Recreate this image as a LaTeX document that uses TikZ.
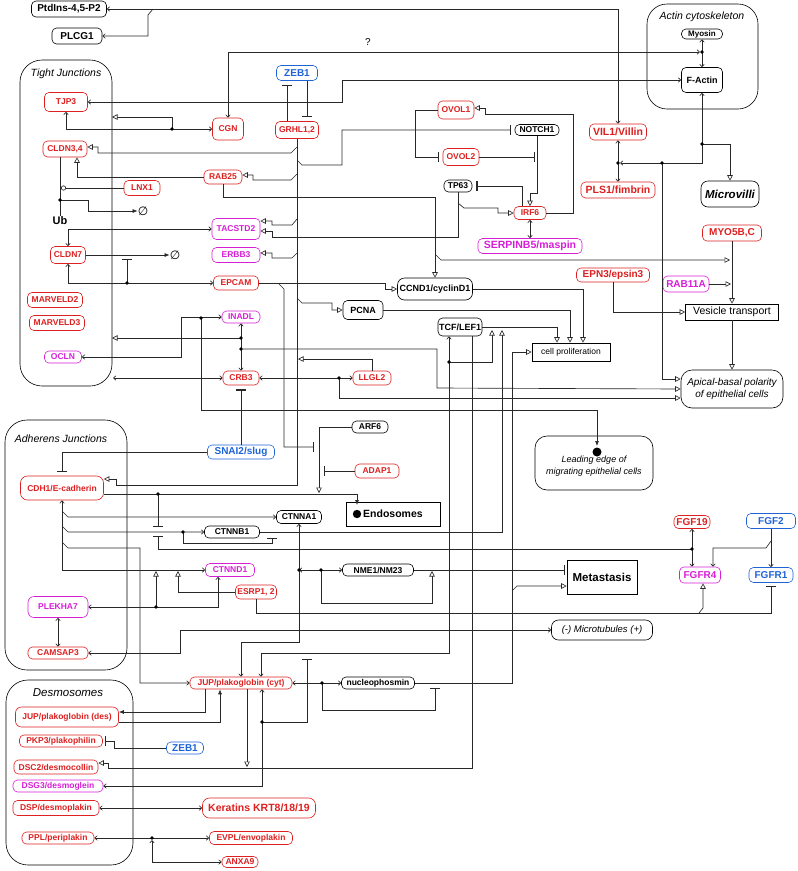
\documentclass[tikz,border=0pt]{standalone}
\usepackage{fontspec}
\setmainfont{Liberation Sans}
\newfontfamily\djv{DejaVu Sans}
\usetikzlibrary{arrows.meta,calc}
\definecolor{nred}{RGB}{222,32,32}
\definecolor{nmag}{RGB}{215,30,215}
\definecolor{nblue}{RGB}{30,100,215}
\definecolor{lc}{RGB}{40,40,40}
\begin{document}
\begin{tikzpicture}[x=1pt,y=-1pt,
  >={Straight Barb[length=2.5pt,width=4.5pt]},
  nb/.style={draw, rounded corners=4.5pt, inner sep=1pt, fill=white, line width=0.6pt, font=\bfseries\fontsize{8.5}{10}\selectfont},
  rn/.style={nb, draw=nred, text=nred},
  mn/.style={nb, draw=nmag, text=nmag},
  bn/.style={nb, draw=nblue, text=nblue},
  kn/.style={nb, draw=black, text=black},
  lg/.style={font=\bfseries\fontsize{10}{11}\selectfont},
  sz/.style 2 args={minimum width=#1pt, minimum height=#2pt},
  sq/.style={draw, fill=white, line width=0.6pt, inner sep=1pt},
  ttl/.style={font=\itshape\fontsize{10.5}{12}\selectfont},
  ln/.style={draw=lc, line width=0.65pt},
  ot/.style={-{Triangle[open,length=5.5pt,width=5.5pt,fill=white]}},
  ih/.style={-{Bar[width=10pt,line width=1.2pt]}},
  fa/.style={-{Latex[length=5pt,width=4pt]}},
  ci/.style={-{Circle[open,length=5pt]}}
]
\useasboundingbox (0,0) rectangle (798,871);

% compartments
\draw[line width=0.6pt, rounded corners=22pt] (20,60) rectangle (112,386);
\node[ttl] (tjt) at (66,74) {Tight Junctions};
\draw[line width=0.6pt, rounded corners=22pt] (5,420) rectangle (127,670);
\node[ttl] (ajt) at (61,439) {Adherens Junctions};
\draw[line width=0.6pt, rounded corners=22pt] (6,680) rectangle (133,865);
\node[ttl, font=\itshape\fontsize{11.5}{12}\selectfont] (dst) at (68,693) {Desmosomes};
\draw[line width=0.6pt, rounded corners=20pt] (647,4) rectangle (758,109);
\node[ttl] (act) at (702,17) {Actin cytoskeleton};

% nodes
\node[kn,sz={75}{16},font=\bfseries\fontsize{10}{11}\selectfont] (ptd) at (69,9) {PtdIns-4,5-P2};
\node[kn,sz={50}{16},font=\bfseries\fontsize{10}{11}\selectfont] (plcg) at (77,36) {PLCG1};
\node[rn,sz={43}{19}] (tjp3) at (66,102) {TJP3};
\node[rn,sz={44}{16}] (cldn34) at (65,149) {CLDN3,4};
\node[rn,sz={36}{15}] (lnx1) at (142,188) {LNX1};
\node[rn,sz={31}{22}] (cgn) at (228,129) {CGN};
\node[rn,sz={38}{14}] (rab25) at (223,177) {RAB25};
\node[font=\bfseries\fontsize{11}{12}\selectfont, inner sep=1pt] (ub) at (60,221) {Ub};
\node[inner sep=0pt, font=\djv\fontsize{12}{12}\selectfont] (e1) at (143,211) {∅};
\node[inner sep=0pt, font=\djv\fontsize{12}{12}\selectfont] (e2) at (175,255) {∅};
\node[rn,sz={35}{17}] (cldn7) at (68,255) {CLDN7};
\node[mn,sz={48}{21}] (tacstd2) at (236,229) {TACSTD2};
\node[mn,sz={48}{15}] (erbb3) at (236,255) {ERBB3};
\node[rn,sz={45}{14}] (epcam) at (236,283) {EPCAM};
\node[rn,sz={55}{15}] (marveld2) at (55,300) {MARVELD2};
\node[rn,sz={55}{15}] (marveld3) at (57,323) {MARVELD3};
\node[mn,sz={37}{12}] (ocln) at (63,357) {OCLN};
\node[mn,sz={38}{12}] (inadl) at (241,317) {INADL};
\node[rn,sz={36}{14}] (crb3) at (241,378) {CRB3};
\node[bn,lg,sz={41}{15}] (zeba) at (297,73) {ZEB1};
\node[rn,sz={43}{17}] (grhl) at (297,130) {GRHL1,2};
\node[rn,sz={36}{18}] (ovol1) at (456,110) {OVOL1};
\node[rn,sz={36}{17}] (ovol2) at (461,157) {OVOL2};
\node[kn,sz={44}{11}] (notch1) at (537,130) {NOTCH1};
\node[kn,sz={28}{12}] (tp63) at (458,186) {TP63};
\node[rn,sz={32}{13}] (irf6) at (530,213) {IRF6};
\node[mn,sz={104}{15},font=\bfseries\fontsize{10.5}{11}\selectfont] (serpin) at (530,246) {SERPINB5/maspin};
\node[rn,sz={57}{16},font=\bfseries\fontsize{10.5}{11}\selectfont] (vil1) at (618,132) {VIL1/Villin};
\node[rn,sz={74}{16},font=\bfseries\fontsize{10.5}{11}\selectfont] (pls1) at (618,190) {PLS1/fimbrin};
\node[kn,sz={41}{10},font=\bfseries\fontsize{8}{9}\selectfont] (myosin) at (702,34) {Myosin};
\node[kn,sz={41}{25},font=\bfseries\fontsize{9}{10}\selectfont] (factin) at (702,80) {F-Actin};
\node[kn,sz={58}{26},rounded corners=7pt,font=\bfseries\itshape\fontsize{11.5}{12}\selectfont] (microvilli) at (730,194) {Microvilli};
\node[kn,sz={75}{22},rounded corners=7pt,font=\bfseries\fontsize{9}{10}\selectfont] (ccnd1) at (435,289) {CCND1/cyclinD1};
\node[kn,sz={40}{19},font=\bfseries\fontsize{9}{10}\selectfont] (pcna) at (363,310) {PCNA};
\node[kn,sz={44}{18},font=\bfseries\fontsize{9}{10}\selectfont] (tcf) at (460,327) {TCF/LEF1};
\node[sq,sz={78}{18},font=\fontsize{8.5}{9}\selectfont] (cellprol) at (571,352) {cell proliferation};
\node[rn,lg,sz={59}{16}] (myo5) at (732,233) {MYO5B,C};
\node[rn,lg,sz={73}{14}] (epn3) at (613,275) {EPN3/epsin3};
\node[mn,lg,sz={46}{16}] (rab11a) at (686,284) {RAB11A};
\node[sq,sz={93}{16},font=\fontsize{10.5}{11}\selectfont] (vesicle) at (732,312) {Vesicle transport};
\node[draw,fill=white,line width=0.6pt,rounded corners=11pt,sz={102}{38},align=center,font=\itshape\fontsize{10}{12}\selectfont] (apical) at (732,389) {Apical-basal polarity\\of epithelial cells};
\node[rn,sz={38}{14}] (llgl2) at (372,378) {LLGL2};
\node[kn,sz={36}{12}] (arf6) at (370,427) {ARF6};
\node[draw,fill=white,line width=0.6pt,rounded corners=12pt,sz={118}{54},align=center,font=\itshape\fontsize{9}{12}\selectfont] (leading) at (594,463) {\mbox{}\\Leading edge of\\migrating epithelial cells};
\node[bn,lg,sz={67}{14}] (snai2) at (241,452) {SNAI2/slug};
\node[rn,sz={44}{14}] (adap1) at (377,471) {ADAP1};
\node[sq,sz={94}{24},font=\bfseries\fontsize{10.5}{11}\selectfont] (endo) at (393,514) {Endosomes};
\node[rn,sz={83}{24},rounded corners=7pt] (cdh1) at (62,488) {CDH1/E-cadherin};
\node[kn,sz={55}{12}] (ctnnb1) at (232,532) {CTNNB1};
\node[kn,sz={45}{13}] (ctnna1) at (299,517) {CTNNA1};
\node[mn,sz={49}{13}] (ctnnd1) at (230,570) {CTNND1};
\node[rn,sz={41}{14}] (esrp) at (256,592) {ESRP1, 2};
\node[mn,sz={60}{21},rounded corners=6pt] (plekha7) at (58,607) {PLEKHA7};
\node[rn,sz={60}{12}] (camsap3) at (58,653) {CAMSAP3};
\node[kn,sz={71}{12}] (nme1) at (378,570) {NME1/NM23};
\node[sq,sz={70}{34},font=\bfseries\fontsize{11.5}{12}\selectfont] (metas) at (602,577) {Metastasis};
\node[rn,lg,sz={36}{13}] (fgf19) at (692,522) {FGF19};
\node[bn,lg,sz={49}{15}] (fgf2) at (771,521) {FGF2};
\node[mn,lg,sz={41}{16}] (fgfr4) at (700,575) {FGFR4};
\node[bn,lg,sz={44}{15}] (fgfr1) at (771,575) {FGFR1};
\node[draw,fill=white,line width=0.6pt,rounded corners=7pt,sz={101}{20},font=\itshape\fontsize{9.5}{10}\selectfont] (microtub) at (602,630) {(-) Microtubules (+)};
\node[rn,sz={102}{12}] (jupcyt) at (241,683) {JUP/plakoglobin (cyt)};
\node[kn,sz={73}{12}] (nucleo) at (378,683) {nucleophosmin};
\node[rn,sz={103}{20},rounded corners=6pt] (jupdes) at (67,717) {JUP/plakoglobin (des)};
\node[rn,sz={83}{12}] (pkp3) at (61,741) {PKP3/plakophilin};
\node[bn,lg,sz={37}{12}] (zebb) at (185,748) {ZEB1};
\node[rn,sz={84}{14}] (dsc2) at (56,767) {DSC2/desmocollin};
\node[mn,sz={90}{12}] (dsg3) at (58,786) {DSG3/desmoglein};
\node[rn,sz={86}{15}] (dsp) at (56,808) {DSP/desmoplakin};
\node[rn,sz={113}{20},rounded corners=7pt,font=\bfseries\fontsize{10.5}{11}\selectfont] (kera) at (259,808) {Keratins KRT8/18/19};
\node[rn,sz={72}{12}] (ppl) at (58,838) {PPL/periplakin};
\node[rn,sz={83}{13}] (evpl) at (251,838) {EVPL/envoplakin};
\node[rn,sz={36}{11}] (anxa9) at (240,862) {ANXA9};
\node[font=\fontsize{10}{10}\selectfont] (qm) at (368,42) {?};

% junction coordinates
\coordinate (jmy) at (702,52);
\coordinate (jcg) at (172,129);
\coordinate (jep) at (127,283);
\coordinate (jub) at (60,200);
\coordinate (jcd) at (158,494);
\coordinate (jfg) at (692,549);
\coordinate (jnm) at (321,570);
\coordinate (jca) at (299,570);
\coordinate (jcb) at (183,532);
\coordinate (jpl) at (156,607);
\coordinate (jnu) at (322,683);
\coordinate (jtc) at (449,362);
\coordinate (jds) at (262,722);
\coordinate (jpp) at (152,838);
\coordinate (jin1) at (241,338);
\coordinate (jin2) at (241,349);
\coordinate (jio) at (201,318);
\coordinate (jll) at (339,378);
\coordinate (jfa) at (702,144);
\coordinate (jvm) at (662,163);
\coordinate (jvp) at (618,163);

% PtdIns / PLCG1
\draw[ln,<->] (vil1.north) |- (ptd.east);
\draw[ln,->] (153,9) -- (148,15) |- (plcg.east);
% CGN - Myosin / F-actin
\draw[ln,<->] (cgn.north) |- ([xshift=-2pt]jmy);
\draw[ln,->] (jmy) -- (myosin.south);
\draw[ln,->] (jmy) -- (factin.north);
% TJP3 - F-actin
\draw[ln,<->] (tjp3.east) -- (342,102) |- (factin.west);
% TJP3 - CGN
\draw[ln,<->] (tjp3.south) |- (cgn.west);
\draw[ln,ot] (jcg) -- (172,117) -- (112,117);
% GRHL
\draw[ln,ot] (grhl.south) -- (297,485) -- (116,485) -- (116,479) -- ([yshift=9pt]cdh1.east);
\draw[ln,ot] (297,147) -- (291,153) -- (98,153) -- (98,147) -- ([yshift=2pt]cldn34.east);
\draw[ln,ot] (297,174) -- (291,180) -- (253,180) -- (253,175) -- ([yshift=2pt]rab25.east);
\draw[ln,ot] (297,219) -- (292,225) -- (272,225) -- (272,221) -- ([yshift=8pt]tacstd2.east);
\draw[ln,ot] (297,253) -- (292,258) -- (272,258) -- (272,253) -- ([yshift=2pt]erbb3.east);
\draw[ln,ot] (297,298) -- (302,303) -- (332,303) |- (pcna.west);
\draw[ln,ih,shorten >=4pt] (297,160) -- (302,165) -- (342,165) |- (notch1.west);
\draw[ln,ih,shorten >=4pt] ([xshift=10pt]zeba.south) -- ([xshift=10pt]grhl.north);
\draw[ln,ih,shorten >=4pt] ([xshift=-10pt]grhl.north) -- ([xshift=-10pt]zeba.south);
% RAB25
\draw[ln,ot] (rab25.west) -| ([xshift=12pt]cldn34.south);
\draw[ln,ot] (rab25.south) -- (223,197) -| (ccnd1.north);
\draw[ln,ot] (435,254) -- (441,260) -- (730,260);
% vesicle transport
\draw[ln,ot] (myo5.south) -- (vesicle.north);
\draw[ln,ot] (rab11a.east) -- (731,284);
\draw[ln,ot] (epn3.south) |- (vesicle.west);
\draw[ln,ot] (vesicle.south) -- (apical.north);
% OVOL / NOTCH / TP63 / IRF6
\draw[ln,ih,shorten >=4pt] (ovol1.west) -- (415,110) |- (ovol2.west);
\draw[ln,ot] (notch1.south) -- (537,193) -- (530,193) -- (irf6.north);
\draw[ln,ih] (ovol2.east) -- (535,157);
\draw[ln,ot] (tp63.south) -- (458,237) -- (272,237) -- (272,231) -- ([yshift=-2pt]tacstd2.east);
\draw[ln,ot] (458,203) -- (464,208) -- (498,208) -- (498,213) -- (irf6.west);
\draw[ln,ih,shorten >=4pt] ([xshift=-8pt]irf6.north) |- (tp63.east);
\draw[ln,ot] (irf6.east) -| (573,114) -- (485,114) -- (485,108) -- ([yshift=2pt]ovol1.east);
\draw[ln,<->] (irf6.south) -- (serpin.north);
% CLDN7
\draw[ln,<->] (tacstd2.west) -| (cldn7.north);
\draw[ln,fa] (cldn7.east) -- (e2.west);
\draw[ln,<->] (cldn7.south) |- (epcam.west);
\draw[ln,ih] (jep) -- (127,259);
% CLDN3,4 / LNX1 / Ub
\draw[ln] ([xshift=-5pt]cldn34.south) -- (ub.north);
\draw[ln,ci] (lnx1.west) -- (61,188);
\draw[ln,fa] (jub) -- (88,200) |- (e1.west);
% EPCAM
\draw[ln,ot] (epcam.east) -- (385,283) -- (385,289) -- (ccnd1.west);
\draw[ln,ih] (278,283) -- (284,289) -- (284,447) -- (314,447);
% ARF6 / ADAP1
\draw[ln,ot] (arf6.west) -- (319,427) -- (319,493);
\draw[ln,ih] (adap1.west) -- (324,471);
% CDH1 to endosomes
\draw[ln,fa] ([yshift=-6pt]cdh1.east) -- (357,494) -- (357,505);
\fill[black] (357,514) circle (4.2);
\draw[ln,ih] (jcd) -- (158,527);
\draw[ln,ih] (jfg) -- (158,549) -- (158,536);
% cell proliferation
\draw[ln,ot] (ccnd1.east) -| ([xshift=12pt]cellprol.north);
\draw[ln,ot] (pcna.east) -| ([xshift=-1pt]cellprol.north);
\draw[ln,ot] (tcf.east) -| ([xshift=-14pt]cellprol.north);
\draw[ln,ot] (nucleo.east) -- (512,683) |- (cellprol.west);
\draw[ln,ot] (512,591) -- (517,586) -- ([yshift=-9pt]metas.west);
% NME1
\draw[ln,ih,shorten >=2pt] (nme1.east) -- ([yshift=7pt]metas.west);
\draw[ln,ot] (jnm) -- (321,603) -- (432,603) -- (432,571);
\draw[ln,<->] (ctnna1.south) -- (299,642) -- (241,642) -- (jupcyt.north);
\draw[ln,<->] (jca) -- (nme1.west);
% CDH1 vertical
\draw[ln,<->] (cdh1.south) |- (ctnnd1.west);
\draw[ln,->] (62,511) -- (68,517) -- (ctnna1.west);
\draw[ln,->] (62,526) -- (68,532) -- (ctnnb1.west);
\draw[ln,ih] (jcb) -- (183,543) -- (272,543) -- (272,538);
\draw[ln,ot] (ctnnb1.east) -- (502,532) -- (502,330);
\draw[ln,->] (62,542) -- (68,548) -- (140,548) |- (jupcyt.west);
% PLEKHA7 / ESRP
\draw[ln,<->] (plekha7.east) -- (218,607) -- ([xshift=-12pt]ctnnd1.south);
\draw[ln,ot] (jpl) -- (156,571);
\draw[ln,ot] (esrp.west) -- (178,592) -- (178,571);
\draw[ln,ih,shorten >=3pt] (esrp.south) |- (771,613) -- (fgfr1.south);
\draw[ln,ot] (699,613) -- (703,608) -- ([xshift=3pt]fgfr4.south);
\draw[ln,<->] (plekha7.south) -- (camsap3.north);
\draw[ln,<->] (camsap3.east) -- (180,653) |- (microtub.west);
% FGF
\draw[ln,<->] (fgf19.south) -- (fgf19.south |- fgfr4.north);
\draw[ln,->] (fgf2.south) -- (fgfr1.north);
\draw[ln,->] (771,541) -- (766,548) -- (713,548) -- ([xshift=13pt]fgfr4.north);
% JUP (cyt)
\draw[ln,<->] (jupcyt.east) -- (nucleo.west);
\draw[ln,ih] (jnu) -- (322,710) -- (435,710) -- (435,688);
\draw[ln,<->] ([xshift=-11pt]tcf.south) -- (449,653) -- (261,653) -- ([xshift=20pt]jupcyt.north);
\draw[ln,ot] (jtc) -- (492,362) -- (492,330);
\draw[ln,ot] ([xshift=12pt]tcf.south) -- (472,768) -- (108,768) -- (108,763) -- ([yshift=4pt]dsc2.east);
\draw[ln,ot] ([xshift=6pt]jupcyt.south) -- (247,767);
\draw[ln,fa] ([xshift=-36pt]jupcyt.south) -- (205,712) -- ([yshift=5pt]jupdes.east);
\draw[ln,fa] ([yshift=-5pt]jupdes.east) -- (220,722) -- ([xshift=-21pt]jupcyt.south);
\draw[ln,<->] ([xshift=21pt]jupcyt.south) -- (262,786) -- (dsg3.east);
\draw[ln,ih] (jds) -- (307,722) -- (307,659);
\draw[ln,<->] (dsp.east) -- (kera.west);
\draw[ln,<->] (ppl.east) -- (evpl.west);
\draw[ln,<->] ([yshift=-2pt]jpp) -- (152,862) -- (anxa9.west);
\draw[ln,ih,shorten >=2pt] (zebb.west) -- (114,748) |- (pkp3.east);
% SNAI2
\draw[ln,ih,shorten >=4pt] (snai2.north) -- (crb3.south);
\draw[ln,ih,shorten >=4pt] (snai2.west) -| (cdh1.north);
% INADL / CRB3 / LLGL2
\draw[ln,<->] (inadl.south) -- (crb3.north);
\draw[ln,ot] (jin1) -- (112,338);
\draw[ln,ot] (jin2) -- (437,349) -- (437,388) -- (apical.west);
\draw[ln,<->] (ocln.east) -- (181,357) |- (inadl.west);
\draw[ln,fa] (jio) -- (201,410) -| (597,446);
\fill[black] (597,452) circle (4.5);
\draw[ln,<->] (crb3.west) -- (113,378);
\draw[ln,<->] (crb3.east) -- (llgl2.west);
\draw[ln,ot] (jll) -- (339,398) -- ([yshift=-9pt]apical.west);
\draw[ln,ot] (llgl2.north) |- (298,359);
% actin junctions
\draw[ln,->] (jfa) -- (factin.south);
\draw[ln,ot] (jfa) -- (730,144) -- (microvilli.north);
\draw[ln] (jfa) -- (702,163) -- (jvm);
\draw[ln,->] (jvm) -- (620,163);
\draw[ln,<->] (vil1.south) -- (pls1.north);
\draw[ln,ot] (jvm) -- (662,379) -- ([yshift=10pt]apical.west);

% dots
\foreach \p in {jmy,jcg,jep,jub,jcd,jfg,jnm,jca,jcb,jpl,jnu,jtc,jds,jpp,jin1,jin2,jio,jll,jfa,jvm,jvp}
  \fill[black] (\p) circle (1.8);
\end{tikzpicture}
\end{document}
